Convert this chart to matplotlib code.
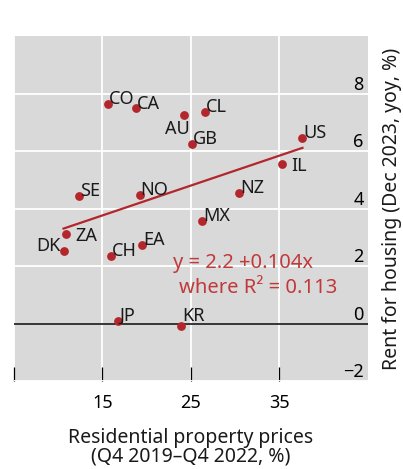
import matplotlib
matplotlib.use("Agg")
import matplotlib.pyplot as plt
import numpy as np

plt.rcParams['font.family'] = ['Noto Sans', 'DejaVu Sans']

# data
countries = ['CO', 'CA', 'AU', 'GB', 'CL', 'US', 'IL', 'NZ', 'MX',
             'SE', 'NO', 'ZA', 'DK', 'EA', 'CH', 'JP', 'KR']
house_prices = [15.6, 18.8, 24.2, 25.1, 26.6, 37.6, 35.3, 30.4, 26.3,
                12.4, 19.2, 10.9, 10.6, 19.5, 16.0, 16.7, 23.9]
rent = [7.63, 7.51, 7.26, 6.26, 7.37, 6.47, 5.56, 4.54, 3.55,
        4.44, 4.46, 3.12, 2.53, 2.74, 2.35, 0.10, -0.09]

intercept = 2.2
slope = 0.104
r_squared = 0.113

x_ticks = [5, 15, 25, 35]
x_ticklabels = ['', '15', '25', '35']
y_ticks = [-2, 0, 2, 4, 6, 8]

# label placement (pixel offsets, alignment) -- default is just right of the dot
default_pos = (1, 0, 'left', 'baseline')
label_pos = {
    'AU': (6, -5, 'right', 'top'),
    'IL': (9, 0, 'left', 'center_baseline'),
    'ZA': (9, 0, 'left', 'center_baseline'),
    'DK': (-3, 0, 'right', 'baseline'),
    'KR': (1, 5, 'left', 'baseline'),
    'JP': (2, 0, 'left', 'baseline'),
    'CA': (1, -1, 'left', 'baseline'),
}

red = '#b3262c'
text_red = '#c0393b'

fig = plt.figure(figsize=(4.03, 4.69), dpi=100)
ax = fig.add_axes([0.0347, 0.1876, 0.8784, 0.7356])
ax.set_facecolor('#d9d9d9')
for s in ax.spines.values():
    s.set_visible(False)

ax.set_xlim(5, 45)
ax.set_ylim(-2, 10)
ax.set_xticks(x_ticks)
ax.set_xticklabels(x_ticklabels)
ax.set_yticks(y_ticks)
ax.grid(True, color='white', lw=1.3)
ax.set_axisbelow(True)
ax.axhline(0, color='black', lw=1.1, zorder=2)

ax.tick_params(axis='x', direction='in', length=10, width=0.9, color='black',
               labelsize=13, pad=9)
ax.yaxis.tick_right()
ax.tick_params(axis='y', length=0, labelsize=13, pad=-3)
for lab in ax.get_yticklabels():
    lab.set_horizontalalignment('right')
    lab.set_verticalalignment('bottom')

# fitted line
xs = np.array([min(house_prices), max(house_prices)])
ax.plot(xs, intercept + slope * xs, color=red, lw=1.6, zorder=3)

ax.scatter(house_prices, rent, s=40, color=red, zorder=4, linewidths=0)
for c, x, y in zip(countries, house_prices, rent):
    dx, dy, ha, va = label_pos.get(c, default_pos)
    ax.annotate(c, (x, y), xytext=(dx, dy), textcoords='offset pixels',
                ha=ha, va=va, fontsize=13, color='#1a1a1a', zorder=5)

ax.text(22.96, 1.94, f'y = {intercept} +{slope}x', color=text_red, fontsize=14.5)
ax.text(23.64, 1.05, f'where R\u00b2 = {r_squared}', color=text_red, fontsize=14.5)

ax.set_xlabel('Residential property prices\n(Q4 2019\u2013Q4 2022, %)',
              fontsize=14, labelpad=12, color='#1a1a1a', linespacing=0.92)
ax.yaxis.set_label_position('right')
ax.set_ylabel('Rent for housing (Dec 2023, yoy, %)', fontsize=14,
              labelpad=10, color='#1a1a1a')

fig.savefig('out.png', dpi=100)
